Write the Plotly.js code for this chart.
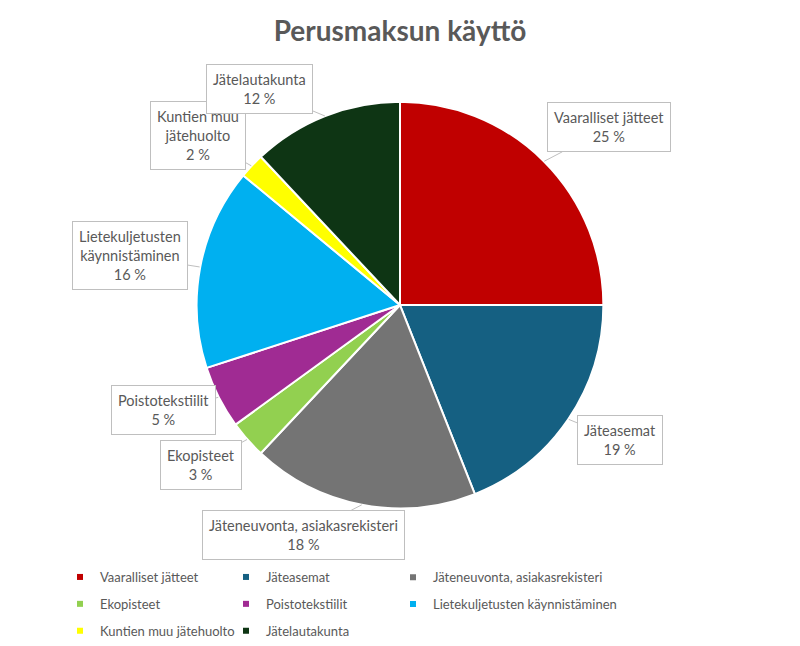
<!DOCTYPE html>
<html><head><meta charset="utf-8">
<script src="https://cdn.plot.ly/plotly-3.0.1.min.js"></script>
<style>html,body{margin:0;padding:0;background:#fff}</style>
</head><body><div id="chart" style="width:800px;height:646px"></div>
<script>
const categories = ["Vaaralliset jätteet","Jäteasemat","Jäteneuvonta, asiakasrekisteri","Ekopisteet","Poistotekstiilit","Lietekuljetusten käynnistäminen","Kuntien muu jätehuolto","Jätelautakunta"];
const values = [25,19,18,3,5,16,2,12];
const labelTexts = ["Vaaralliset jätteet","Jäteasemat","Jäteneuvonta, asiakasrekisteri","Ekopisteet","Poistotekstiilit","Lietekuljetusten<br>käynnistäminen","Kuntien muu<br>jätehuolto","Jätelautakunta"];
const colors = ["#C00000","#156082","#747474","#92D050","#A02B93","#00B0F0","#FFFF00","#0E3514"];
// label box offsets (px) relative to slice edge
const labelOffsets = [[65,-34],[51,21],[-58,30],[-46,25],[-55,13],[-70,-11],[-53,-30],[-65,-27]];
// legend column left edges (px)
const legendCols = [60,226,393];

const W=800,H=646;
const domY=[(646-510)/646,(646-102)/646];
const cx=0.5, cy=(domY[0]+domY[1])/2;
const rPx=(domY[1]-domY[0])*H/2;
const total=values.reduce((a,b)=>a+b,0);
let cum=0;
const annotations=[];
values.forEach((v,i)=>{
  const mid=(cum+v/2)/total*2*Math.PI; cum+=v;
  const x=cx+rPx*Math.sin(mid)/W, y=cy+rPx*Math.cos(mid)/H;
  annotations.push({
    xref:'paper',yref:'paper',x:x,y:y,
    ax:labelOffsets[i][0],ay:labelOffsets[i][1],
    text:labelTexts[i]+'<br>'+Math.round(v/total*100)+' %',
    showarrow:true,arrowhead:0,arrowwidth:1,arrowcolor:'#BFBFBF',standoff:0,
    bordercolor:'#BFBFBF',borderwidth:1,borderpad:6,bgcolor:'#fff',
    font:{family:'Lato, Open Sans, sans-serif',size:14.5,color:'#595959'},align:'center'
  });
});

const traces=[{
  type:'pie',labels:categories,values:values,sort:false,direction:'clockwise',rotation:0,
  marker:{colors:colors,line:{color:'#fff',width:2}},
  textinfo:'none',hoverinfo:'label+percent',showlegend:false,
  domain:{x:[0,1],y:domY}
}];
const legendNames=['legend','legend2','legend3'];
categories.forEach((c,i)=>{
  traces.push({type:'scatter',mode:'markers',x:[null],y:[null],name:c,legendgroup:'g'+i,
    legend:legendNames[i%3],showlegend:true,hoverinfo:'skip',
    marker:{symbol:'square',size:6,color:colors[i]}});
});
const legendFont={family:'Lato, Open Sans, sans-serif',size:13,color:'#595959'};
const layout={
  width:W,height:H,margin:{l:0,r:0,t:0,b:0},paper_bgcolor:'#fff',plot_bgcolor:'rgba(0,0,0,0)',
  xaxis:{visible:false},yaxis:{visible:false},
  title:{text:'<b>Perusmaksun käyttö</b>',x:0.5,xanchor:'center',y:0.951,yanchor:'middle',
    font:{family:'Lato, Open Sans, sans-serif',size:28,color:'#595959'}},
  showlegend:true,
  annotations:annotations
};
legendNames.forEach((ln,k)=>{
  layout[ln]={orientation:'v',x:legendCols[k]/W,xanchor:'left',y:1-564/H,yanchor:'top',
    itemwidth:30,traceorder:'grouped',tracegroupgap:7,bgcolor:'rgba(0,0,0,0)',font:legendFont};
});
Plotly.newPlot('chart',traces,layout,{displayModeBar:false,staticPlot:true});
</script></body></html>
